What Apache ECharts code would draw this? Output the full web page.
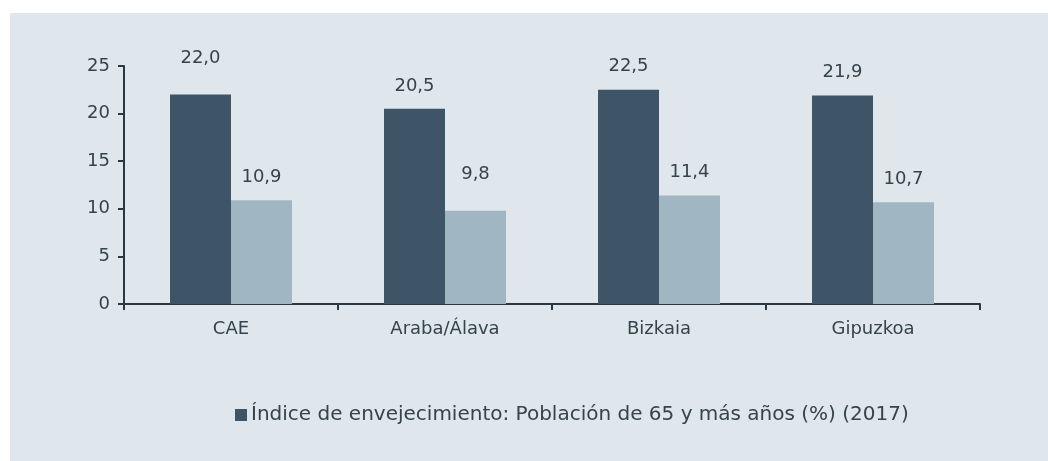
<!DOCTYPE html>
<html lang="es">
<head>
    <meta charset="UTF-8">
    <title>Índice de envejecimiento</title>
    <script src="https://cdn.jsdelivr.net/npm/echarts@6/dist/echarts.min.js"></script>
    <style>
        html, body { margin: 0; padding: 0; background: #ffffff; }
        #chart { width: 1048px; height: 461px; }
    </style>
</head>
<body>
<div id="chart"></div>
<script type="text/javascript">
    // datos
    var categorias = ['CAE', 'Araba/Álava', 'Bizkaia', 'Gipuzkoa'];
    var serie65 = [22.0, 20.5, 22.5, 21.9];
    var serie2 = [10.9, 9.8, 11.4, 10.7];
    var nombre65 = 'Índice de envejecimiento: Población de 65 y más años (%) (2017)';
    var ejeY = [0, 5, 10, 15, 20, 25];

    var texto = '#35434d';
    var fuente = 'DejaVu Sans';

    function coma(p) {
        return p.value.toFixed(1).replace('.', ',');
    }

    // en el original dos etiquetas quedan algo más arriba
    function conEtiquetas(valores, altas) {
        return valores.map(function (v, i) {
            if (altas.indexOf(i) >= 0) {
                return { value: v, label: { distance: 27 } };
            }
            return v;
        });
    }

    var myChart = echarts.init(document.getElementById('chart'));
    var option = {
        backgroundColor: '#ffffff',
        textStyle: { fontFamily: fuente, color: texto },
        graphic: [{
            type: 'rect',
            z: -10,
            shape: { x: 10, y: 13, width: 1038, height: 448 },
            style: { fill: '#dfe6ec' }
        }],
        grid: { left: 124, right: 68, top: 66, bottom: 157 },
        legend: {
            data: [nombre65],
            left: 230,
            top: 400,
            itemWidth: 12,
            itemHeight: 12,
            icon: 'rect',
            textStyle: { fontFamily: fuente, fontSize: 20, color: texto, padding: [0, 0, 0, -1] }
        },
        xAxis: {
            type: 'category',
            data: categorias,
            axisLine: { lineStyle: { color: '#2a3843', width: 2 } },
            axisTick: { show: true, length: 6, lineStyle: { color: '#2a3843', width: 2 } },
            axisLabel: { fontSize: 18, color: texto, margin: 16, fontFamily: fuente }
        },
        yAxis: {
            type: 'value',
            min: ejeY[0],
            max: ejeY[ejeY.length - 1],
            interval: 5,
            splitLine: { show: false },
            axisLine: { show: true, lineStyle: { color: '#2a3843', width: 2 } },
            axisTick: { show: true, length: 6, lineStyle: { color: '#2a3843', width: 2 } },
            axisLabel: { fontSize: 18, color: texto, margin: 14, fontFamily: fuente }
        },
        series: [{
            name: nombre65,
            type: 'bar',
            data: conEtiquetas(serie65, [0]),
            barGap: '0%',
            barCategoryGap: '43%',
            itemStyle: { color: '#3d5567' },
            label: { show: true, position: 'top', distance: 14, formatter: coma,
                fontSize: 18, color: texto, fontFamily: fuente }
        }, {
            name: 'Serie 2',
            type: 'bar',
            data: conEtiquetas(serie2, [1]),
            itemStyle: { color: '#a0b6c2' },
            label: { show: true, position: 'top', distance: 14, formatter: coma,
                fontSize: 18, color: texto, fontFamily: fuente }
        }]
    };
    myChart.setOption(option);
</script>
</body>
</html>
